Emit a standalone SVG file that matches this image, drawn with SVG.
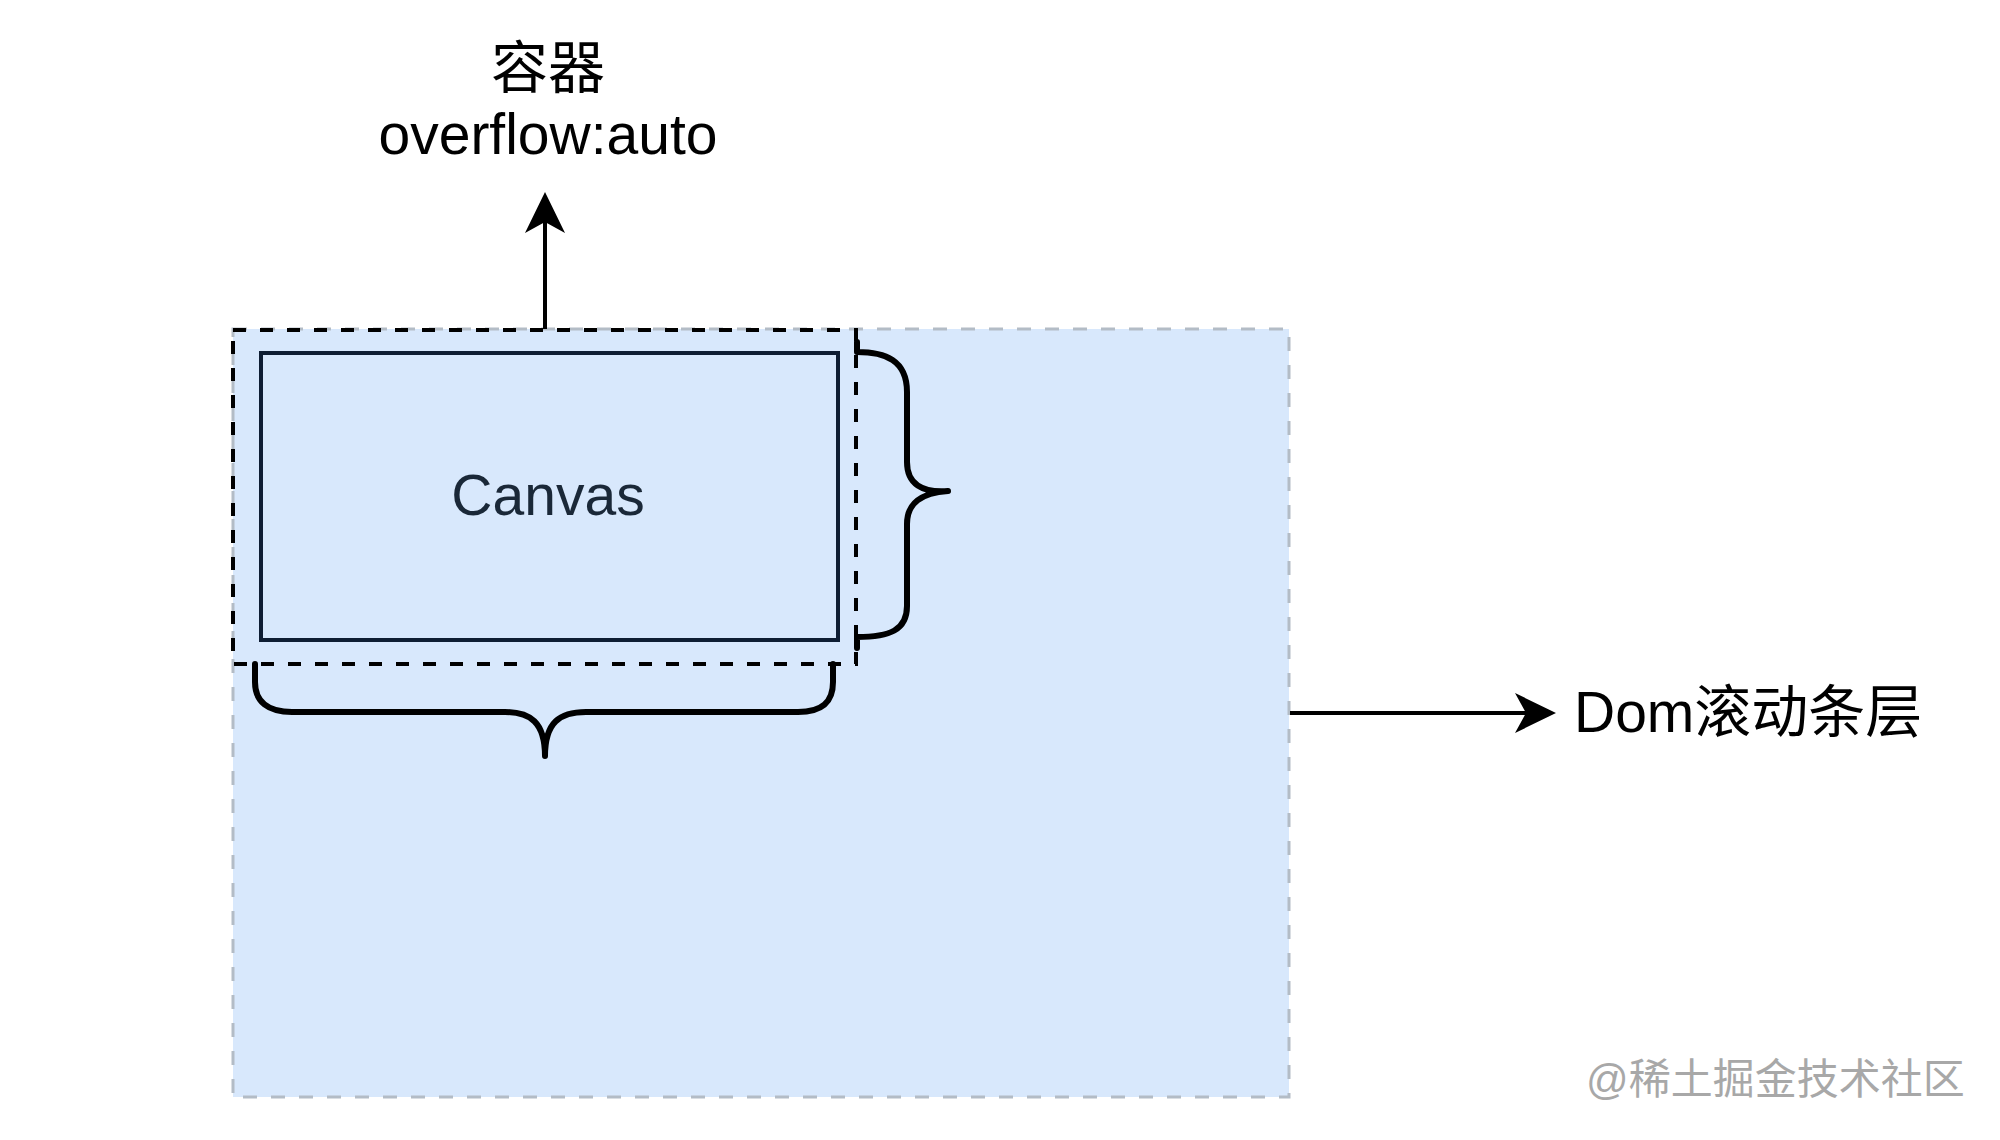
<svg xmlns="http://www.w3.org/2000/svg" width="2000" height="1140" viewBox="0 0 2000 1140">
  <style>
    .txt { font-family: "Liberation Sans", Arial, "Noto Sans CJK SC", sans-serif; font-size: 57px; fill: #000000; }
    .mark { font-family: "Liberation Sans", Arial, "Noto Sans CJK SC", sans-serif; font-size: 42px; fill: #a8a8a8; }
    .brace { fill: none; stroke: #000000; stroke-width: 6; stroke-linecap: round; stroke-linejoin: round; }
    .conn { fill: none; stroke: #000000; stroke-width: 4; }
  </style>
  <defs>
    <marker id="arrow" markerUnits="userSpaceOnUse" markerWidth="42" markerHeight="42" viewBox="0 0 42 42" refX="11" refY="21" orient="auto">
      <path d="M41,21 L0,1 L11,21 L0,41 Z" fill="#000000"/>
    </marker>
  </defs>
  <rect width="2000" height="1140" fill="#ffffff"/>

  <g id="dom-scroll-layer">
    <rect x="233" y="329" width="1056" height="768" fill="#d8e8fc" stroke="#b3bcc6" stroke-width="3" stroke-dasharray="14 14"/>
  </g>

  <g id="container">
    <rect x="233" y="330" width="623" height="334" fill="none" stroke="#000000" stroke-width="4" stroke-dasharray="13 14"/>
  </g>

  <g id="canvas">
    <rect x="261" y="353" width="577" height="287" fill="#d8e8fc" stroke="#0e1d33" stroke-width="4"/>
    <text class="txt" x="548" y="515" text-anchor="middle" style="fill:#1a2838">Canvas</text>
  </g>

  <g id="height-brace">
    <path class="brace" d="M857,342 L857,352 C885,352 907,360 907,392 L907,462 C907,484 922,493 948,491 C922,493 907,502 907,524 L907,606 C907,630 890,637 857,637 L857,648"/>
  </g>

  <g id="width-brace">
    <path class="brace" d="M255,664 L255,682 C255,702 268,712 292,712 L505,712 C530,712 545,722 545,756 C545,722 560,712 586,712 L798,712 C822,712 833,702 833,682 L833,664"/>
  </g>

  <g id="container-label">
    <text class="txt" x="548" y="88" text-anchor="middle">容器</text>
    <text class="txt" x="548" y="154" text-anchor="middle">overflow:auto</text>
  </g>

  <g id="dom-label">
    <text class="txt" x="1574" y="732">Dom滚动条层</text>
  </g>

  <g id="connectors">
    <line class="conn" x1="545" y1="329" x2="545" y2="222" marker-end="url(#arrow)"/>
    <line class="conn" x1="1290" y1="713" x2="1526" y2="713" marker-end="url(#arrow)"/>
  </g>

  <g id="watermark">
    <text class="mark" x="1586" y="1094">@稀土掘金技术社区</text>
  </g>
</svg>
